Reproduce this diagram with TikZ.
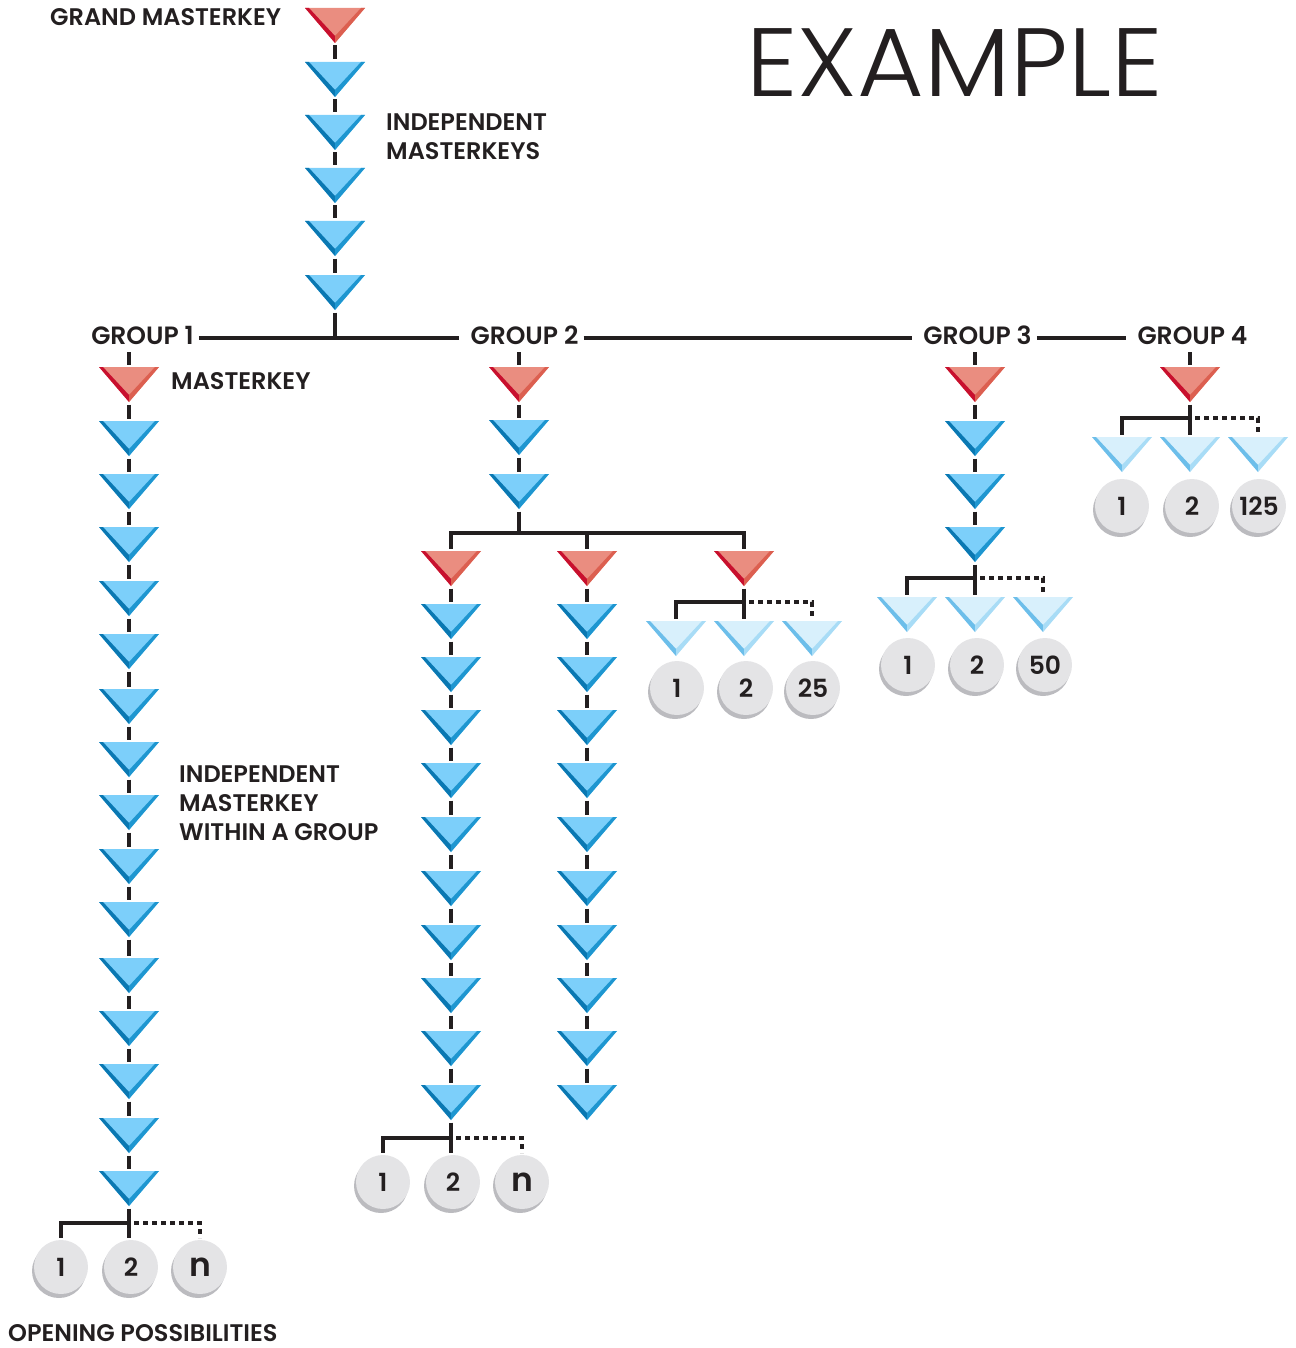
\documentclass[tikz,border=0pt]{standalone}
\usepackage{fontspec}
\usetikzlibrary{shadows}
\newfontfamily\keyfont{Poppins SemiBold}
\newfontfamily\titlefont{Poppins Light}[FakeStretch=1.055]
\definecolor{redface}{HTML}{EA8D80}
\definecolor{redleft}{HTML}{C8102E}
\definecolor{redright}{HTML}{DC5F50}
\definecolor{blueface}{HTML}{7CCFFA}
\definecolor{blueleft}{HTML}{0A78B2}
\definecolor{blueright}{HTML}{1E96D0}
\definecolor{paleface}{HTML}{D8F0FC}
\definecolor{paleleft}{HTML}{6CBEEA}
\definecolor{paleright}{HTML}{A8DCF6}
\definecolor{coinface}{HTML}{E4E4E6}
\definecolor{coinshade}{HTML}{BBBBBF}
\definecolor{ink}{HTML}{231F20}
\tikzset{
  x=1pt, y=1pt,
  tri/.style n args={3}{minimum width=60pt, minimum height=35pt, inner sep=0pt, outer sep=2.5pt,
    anchor=north, yshift=2.5pt,
    path picture={
      \coordinate (nw) at (path picture bounding box.north west);
      \coordinate (ne) at (path picture bounding box.north east);
      \coordinate (sp) at (path picture bounding box.south);
      \fill [#1] (nw) -- (ne) -- (sp) -- cycle;
      \fill [#2] (nw) -- (sp) -- ([yshift=7pt]sp) -- ([xshift=4pt]nw) -- cycle;
      \fill [#3] (ne) -- (sp) -- ([yshift=7pt]sp) -- ([xshift=-4pt]ne) -- cycle;
    }},
  redkey/.style={tri={redface}{redleft}{redright}},
  bluekey/.style={tri={blueface}{blueleft}{blueright}},
  palekey/.style={tri={paleface}{paleleft}{paleright}},
  coin/.style={circle, minimum size=54pt, inner sep=0pt, outer sep=2pt, fill=coinface, text=ink,
    general shadow={fill=coinshade, shadow xshift=-2pt, shadow yshift=-4pt},
    font=\keyfont\fontsize{25}{25}\selectfont},
  coinn/.style={coin, font=\keyfont\fontsize{33}{33}\selectfont},
  stem/.style={line width=3.05pt, draw=ink},
  dots/.style={line width=3.05pt, draw=ink, dash pattern=on 5pt off 4pt},
  lbl/.style={anchor=west, inner sep=0pt, align=left, text=ink, font=\keyfont\fontsize{24}{29}\selectfont},
  grouplbl/.style={text=ink, text height=16pt, text depth=4pt, inner xsep=5pt, inner ysep=4pt,
    font=\keyfont\fontsize{25}{29}\selectfont},
  grpline/.style={stem, shorten >=6pt},
}
% column of keys, the first one red
\newcommand{\keycol}[3]{
  \foreach \ty [count=\n, remember=\n as \m (initially 0)] in {#3} {
    \ifnum\n=1
      \node [redkey] (#1\n) at (#2,-\ty) {};
    \else
      \node [bluekey] (#1\n) at (#2,-\ty) {};
      \draw [stem] (#1\m.south) -- (#1\n.north);
    \fi
  }
}
\begin{document}
\begin{tikzpicture}
  \useasboundingbox (0,0) rectangle (1295,-1348);

  \node [anchor=west, inner sep=0pt, text=ink, font=\titlefont\fontsize{97}{97}\selectfont] (title) at (746,-63) {EXAMPLE};

  % independent masterkeys on top
  \keycol{m}{335}{8,62,115,168,221,275}
  \node [lbl] (grand) at (50,-17) {GRAND MASTERKEY};
  \node [lbl] (indep) at (386,-137) {INDEPENDENT\\MASTERKEYS};

  % the group line
  \node [grouplbl] (grp1) at (142.5,-338) {GROUP 1};
  \node [grouplbl] (grp2) at (524.5,-338) {GROUP 2};
  \node [grouplbl] (grp3) at (977.5,-338) {GROUP 3};
  \node [grouplbl] (grp4) at (1192.5,-338) {GROUP 4};
  \draw [grpline] (grp1) -- (grp2);
  \draw [grpline] (grp2) -- (grp3);
  \draw [grpline] (grp3) -- (grp4);
  \draw [stem] (m6.south) -- (m6.south |- grp1);

  % group 1
  \keycol{a}{129}{367,421,474,527,581,634,689,742,795,849,902,958,1011,1064,1118,1171}
  \draw [stem] (grp1.south -| a1.north) -- (a1.north);
  \node [lbl] (mkey) at (171,-381) {MASTERKEY};
  \node [lbl] (within) at (179,-803) {INDEPENDENT\\MASTERKEY\\WITHIN A GROUP};
  \node [coin] (ap1) at (61,-1267) {1};
  \node [coin] (ap2) at (131,-1267) {2};
  \node [coinn] (ap3) at (200,-1267) {n};
  \coordinate (a16bar) at (129,-1223);
  \draw [stem] (a16.south) -- (a16.south |- ap2.north);
  \draw [stem] (a16bar) -| (ap1.north);
  \draw [dots] ([xshift=5pt]a16bar) -| (ap3.north);
  \node [lbl] (opening) at (8,-1333) {OPENING POSSIBILITIES};

  % group 2
  \keycol{b}{519}{367,420,474}
  \draw [stem] (grp2.south -| b1.north) -- (b1.north);
  \keycol{c}{451}{551,604,657,710,763,817,871,925,978,1031,1085}
  \keycol{d}{587}{551,604,657,710,763,817,871,925,978,1031,1085}
  \node [redkey] (e) at (744,-551) {};
  \coordinate (b3bar) at (519,-533);
  \draw [stem] (b3.south) -- (b3bar);
  \draw [stem] (b3bar) -| (c1.north);
  \draw [stem] (b3bar) -| (d1.north);
  \draw [stem] (b3bar) -| (e.north);

  \node [coin] (cp1) at (383,-1182) {1};
  \node [coin] (cp2) at (453,-1182) {2};
  \node [coinn] (cp3) at (522,-1182) {n};
  \coordinate (c11bar) at (451,-1138);
  \draw [stem] (c11.south) -- (c11.south |- cp2.north);
  \draw [stem] (c11bar) -| (cp1.north);
  \draw [dots] ([xshift=5pt]c11bar) -| (cp3.north);

  \node [palekey] (ek1) at (676,-621) {};
  \node [palekey] (ek2) at (744,-621) {};
  \node [palekey] (ek3) at (812,-621) {};
  \coordinate (ebar) at (744,-602);
  \draw [stem] (e.south) -- (ek2.north);
  \draw [stem] (ebar) -| (ek1.north);
  \draw [dots] ([xshift=5pt]ebar) -| (ek3.north);
  \node [coin] (ec1) at (677,-688) {1};
  \node [coin] (ec2) at (746,-688) {2};
  \node [coin] (ec3) at (813,-688) {25};

  % group 3
  \keycol{f}{975}{367,421,474,527}
  \draw [stem] (grp3.south -| f1.north) -- (f1.north);
  \node [palekey] (fk1) at (907,-597) {};
  \node [palekey] (fk2) at (975,-597) {};
  \node [palekey] (fk3) at (1043,-597) {};
  \coordinate (fbar) at (975,-578);
  \draw [stem] (f4.south) -- (fk2.north);
  \draw [stem] (fbar) -| (fk1.north);
  \draw [dots] ([xshift=5pt]fbar) -| (fk3.north);
  \node [coin] (fc1) at (908,-665) {1};
  \node [coin] (fc2) at (977,-665) {2};
  \node [coin] (fc3) at (1045,-665) {50};

  % group 4
  \node [redkey] (g) at (1190,-367) {};
  \draw [stem] (grp4.south -| g.north) -- (g.north);
  \node [palekey] (gk1) at (1122,-437) {};
  \node [palekey] (gk2) at (1190,-437) {};
  \node [palekey] (gk3) at (1258,-437) {};
  \coordinate (gbar) at (1190,-418);
  \draw [stem] (g.south) -- (gk2.north);
  \draw [stem] (gbar) -| (gk1.north);
  \draw [dots] ([xshift=5pt]gbar) -| (gk3.north);
  \node [coin] (gc1) at (1122,-506) {1};
  \node [coin] (gc2) at (1192,-506) {2};
  \node [coin] (gc3) at (1259,-506) {125};
\end{tikzpicture}
\end{document}
